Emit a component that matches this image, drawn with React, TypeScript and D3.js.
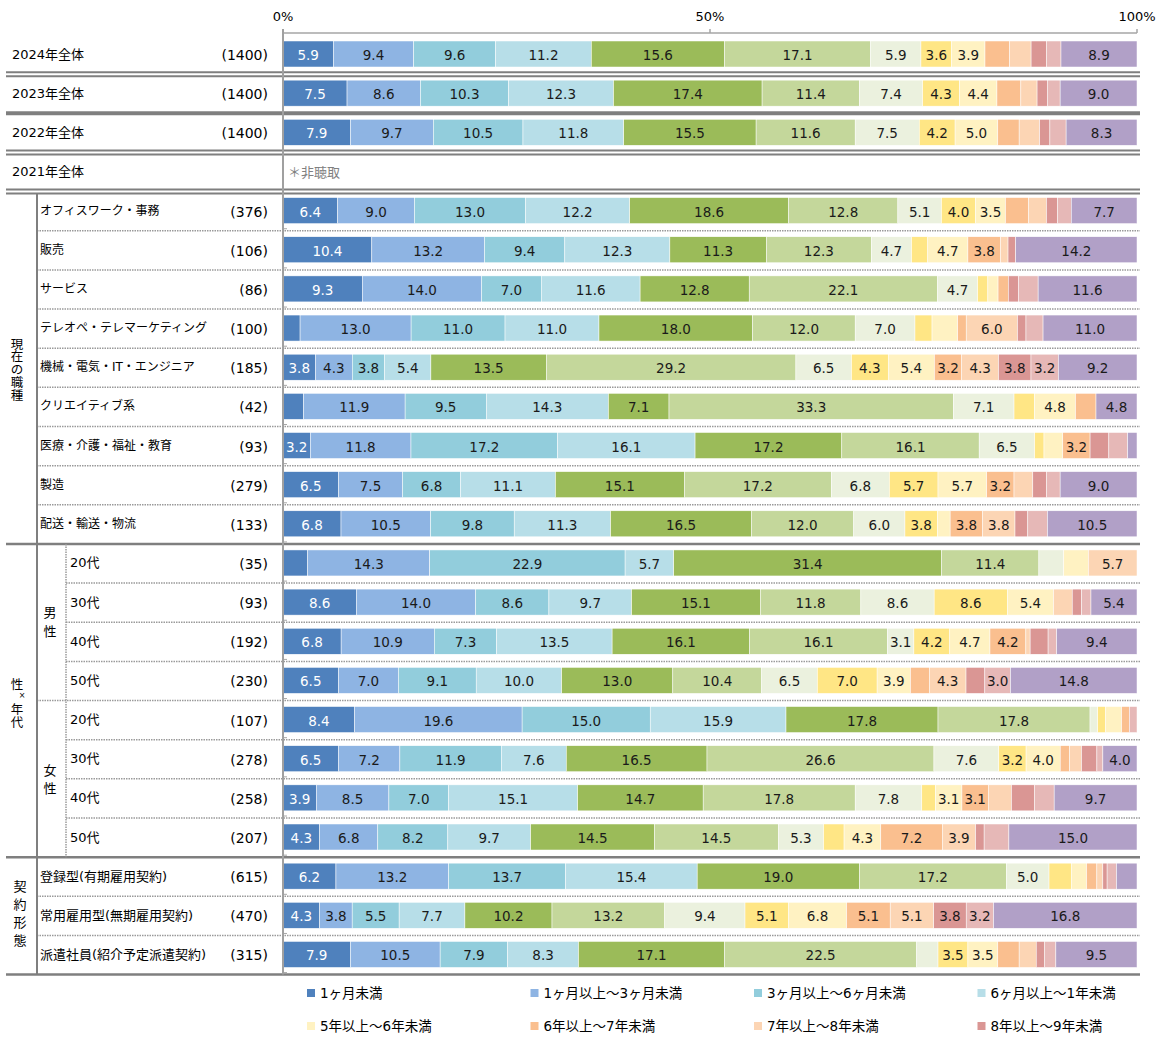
import React from "react";
import * as d3 from "d3";

// ---------- DATA ----------
const SERIES = [
  "1ヶ月未満",
  "1ヶ月以上～3ヶ月未満",
  "3ヶ月以上～6ヶ月未満",
  "6ヶ月以上～1年未満",
  "1年以上～2年未満",
  "2年以上～3年未満",
  "3年以上～4年未満",
  "4年以上～5年未満",
  "5年以上～6年未満",
  "6年以上～7年未満",
  "7年以上～8年未満",
  "8年以上～9年未満",
  "9年以上～10年未満",
  "10年以上",
];
const COLORS = [
  "#4F81BD", "#8EB4E3", "#92CDDC", "#B7DEE8", "#9BBB59", "#C4D79B", "#EBF1DE",
  "#FFE685", "#FFF2C2", "#FABF8F", "#FCD5B4", "#DA9694", "#E6B8B7", "#B1A0C7",
];
const LEGEND_SHOWN = [0, 1, 2, 3, 8, 9, 10, 11];

const ROW_LABELS = [
  "2024年全体", "2023年全体", "2022年全体", "2021年全体",
  "オフィスワーク・事務", "販売", "サービス", "テレオペ・テレマーケティング",
  "機械・電気・IT・エンジニア", "クリエイティブ系", "医療・介護・福祉・教育", "製造", "配送・輸送・物流",
  "20代", "30代", "40代", "50代",
  "20代", "30代", "40代", "50代",
  "登録型(有期雇用契約)", "常用雇用型(無期雇用契約)", "派遣社員(紹介予定派遣契約)",
];
const ROW_COUNTS = [
  "(1400)", "(1400)", "(1400)", "",
  "(376)", "(106)", "(86)", "(100)", "(185)", "(42)", "(93)", "(279)", "(133)",
  "(35)", "(93)", "(192)", "(230)",
  "(107)", "(278)", "(258)", "(207)",
  "(615)", "(470)", "(315)",
];

const v2024 = [5.9, 9.4, 9.6, 11.2, 15.6, 17.1, 5.9, 3.6, 3.9, 2.9, 2.5, 1.8, 1.7, 8.9];
const v2023 = [7.5, 8.6, 10.3, 12.3, 17.4, 11.4, 7.4, 4.3, 4.4, 2.8, 1.9, 1.2, 1.5, 9.0];
const v2022 = [7.9, 9.7, 10.5, 11.8, 15.5, 11.6, 7.5, 4.2, 5.0, 2.5, 2.4, 1.2, 1.9, 8.3];
const v2021: number[] | null = null; // 非聴取

const vOffice = [6.4, 9.0, 13.0, 12.2, 18.6, 12.8, 5.1, 4.0, 3.5, 2.7, 2.1, 1.3, 1.6, 7.7];
const vSales = [10.4, 13.2, 9.4, 12.3, 11.3, 12.3, 4.7, 1.9, 4.7, 3.8, 0.9, 0.9, 0, 14.2];
const vService = [9.3, 14.0, 7.0, 11.6, 12.8, 22.1, 4.7, 1.2, 1.2, 1.2, 0, 1.2, 2.3, 11.6];
const vTele = [2.0, 13.0, 11.0, 11.0, 18.0, 12.0, 7.0, 2.0, 3.0, 1.0, 6.0, 1.0, 2.0, 11.0];
const vEngineer = [3.8, 4.3, 3.8, 5.4, 13.5, 29.2, 6.5, 4.3, 5.4, 3.2, 4.3, 3.8, 3.2, 9.2];
const vCreative = [2.4, 11.9, 9.5, 14.3, 7.1, 33.3, 7.1, 2.4, 4.8, 2.4, 0, 0, 0, 4.8];
const vMedical = [3.2, 11.8, 17.2, 16.1, 17.2, 16.1, 6.5, 1.1, 2.2, 3.2, 0, 2.2, 2.2, 1.1];
const vMaking = [6.5, 7.5, 6.8, 11.1, 15.1, 17.2, 6.8, 5.7, 5.7, 3.2, 2.2, 1.6, 1.6, 9.0];
const vLogistics = [6.8, 10.5, 9.8, 11.3, 16.5, 12.0, 6.0, 3.8, 1.5, 3.8, 3.8, 1.5, 2.3, 10.5];

const vMale20 = [2.9, 14.3, 22.9, 5.7, 31.4, 11.4, 2.9, 0, 2.9, 0, 5.7, 0, 0, 0];
const vMale30 = [8.6, 14.0, 8.6, 9.7, 15.1, 11.8, 8.6, 8.6, 5.4, 0, 2.2, 1.1, 1.1, 5.4];
const vMale40 = [6.8, 10.9, 7.3, 13.5, 16.1, 16.1, 3.1, 4.2, 4.7, 4.2, 0.5, 2.1, 1.0, 9.4];
const vMale50 = [6.5, 7.0, 9.1, 10.0, 13.0, 10.4, 6.5, 7.0, 3.9, 2.2, 4.3, 2.2, 3.0, 14.8];
const vFemale20 = [8.4, 19.6, 15.0, 15.9, 17.8, 17.8, 0.9, 0.9, 1.9, 0.9, 0, 0, 0.9, 0];
const vFemale30 = [6.5, 7.2, 11.9, 7.6, 16.5, 26.6, 7.6, 3.2, 4.0, 1.1, 1.4, 1.8, 0.7, 4.0];
const vFemale40 = [3.9, 8.5, 7.0, 15.1, 14.7, 17.8, 7.8, 1.6, 3.1, 3.1, 2.7, 2.7, 2.3, 9.7];
const vFemale50 = [4.3, 6.8, 8.2, 9.7, 14.5, 14.5, 5.3, 2.4, 4.3, 7.2, 3.9, 1.0, 2.9, 15.0];

const vRegistered = [6.2, 13.2, 13.7, 15.4, 19.0, 17.2, 5.0, 2.6, 1.8, 1.2, 0.7, 0.5, 1.1, 2.4];
const vPermanent = [4.3, 3.8, 5.5, 7.7, 10.2, 13.2, 9.4, 5.1, 6.8, 5.1, 5.1, 3.8, 3.2, 16.8];
const vTempToPerm = [7.9, 10.5, 7.9, 8.3, 17.1, 22.5, 2.5, 3.5, 3.5, 2.5, 2.0, 1.0, 1.3, 9.5];

const ROW_VALUES: (number[] | null)[] = [
  v2024, v2023, v2022, v2021,
  vOffice, vSales, vService, vTele, vEngineer, vCreative, vMedical, vMaking, vLogistics,
  vMale20, vMale30, vMale40, vMale50,
  vFemale20, vFemale30, vFemale40, vFemale50,
  vRegistered, vPermanent, vTempToPerm,
];

// labels not printed in the original even though >= 3.0
const HIDDEN_LABELS: [number, number][] = [[7, 8]];
const LABEL_MIN = 3.0;
const NOT_ASKED = "＊非聴取";
const AXIS_TICKS = [0, 0.5, 1];

// ---------- COMPONENT ----------
const FONT = "'DejaVu Sans', 'Noto Sans CJK JP', sans-serif";
const JFONT = "'Noto Sans CJK JP', sans-serif";
const LINE = "#7F7F7F";

export default function App() {
  const W = 1159;
  const H = 1037;
  const x = d3.scaleLinear().domain([0, 1]).range([283, 1137]);
  const y = d3
    .scaleBand<number>()
    .domain(d3.range(ROW_LABELS.length))
    .range([35, 35 + 39.15 * ROW_LABELS.length])
    .paddingInner(0)
    .paddingOuter(0);
  const barOff = 6;
  const barH = 26;

  const table = ROW_VALUES.map((v, i) => ({ i, v })).filter((d) => d.v !== null) as {
    i: number;
    v: number[];
  }[];
  const stack = d3
    .stack<{ i: number; v: number[] }, number>()
    .keys(d3.range(SERIES.length))
    .value((d, k) => d.v[k])
    .offset(d3.stackOffsetExpand);
  const layers = stack(table);

  const isHidden = (row: number, s: number) =>
    HIDDEN_LABELS.some(([r, c]) => r === row && c === s);

  const labelX = (i: number) => (i < 4 ? 12 : i < 13 ? 40 : i < 21 ? 70 : 40);
  const labelSize = (i: number) => (i >= 4 && i < 13 ? 12 : 13);

  const boundary = (i: number) => y(i)! as number;
  const bottom = 35 + 39.15 * ROW_LABELS.length;

  // separator lines
  const seps: React.ReactNode[] = [];
  const x2 = 1140;
  const addDouble = (i: number) => {
    const b = boundary(i);
    seps.push(<line key={`d1${i}`} x1={6} x2={x2} y1={b - 2} y2={b - 2} stroke={LINE} strokeWidth={2} />);
    seps.push(<line key={`d2${i}`} x1={6} x2={x2} y1={b + 2} y2={b + 2} stroke={LINE} strokeWidth={2} />);
  };
  addDouble(1);
  seps.push(
    <line key="thick2" x1={6} x2={x2} y1={boundary(2)} y2={boundary(2)} stroke={LINE} strokeWidth={4} />
  );
  addDouble(3);
  addDouble(4);
  const solid = (yy: number, k: string) => (
    <line key={k} x1={6} x2={x2} y1={yy} y2={yy} stroke={LINE} strokeWidth={2.5} />
  );
  const dotted = (i: number, from: number) => (
    <line
      key={`dot${i}`}
      x1={from}
      x2={x2}
      y1={boundary(i)}
      y2={boundary(i)}
      stroke="#9A9A9A"
      strokeWidth={1.5}
      strokeDasharray="1.5,1"
    />
  );
  for (let i = 5; i <= 12; i++) seps.push(dotted(i, 37));
  seps.push(solid(boundary(13), "g13"));
  for (const i of [14, 15, 16, 18, 19, 20]) seps.push(dotted(i, 66));
  seps.push(dotted(17, 37));
  seps.push(solid(boundary(21), "g21"));
  for (const i of [22, 23]) seps.push(dotted(i, 37));
  seps.push(solid(bottom, "bottom"));

  const vertChars = (
    chars: { c: string; x: number; y: number; size?: number }[],
    key: string
  ) =>
    chars.map((ch, k) => (
      <text
        key={key + k}
        x={ch.x}
        y={ch.y}
        textAnchor="middle"
        dominantBaseline="central"
        fontFamily={FONT}
        fontSize={ch.size ?? 13}
        fill="#000"
      >
        {ch.c}
      </text>
    ));

  const legendCols = [311, 534.5, 758, 981.5];
  const legendRows = [993, 1026];

  return (
    <svg
      width={W}
      height={H}
      viewBox={`0 0 ${W} ${H}`}
      style={{ display: "block", background: "#fff", position: "absolute", left: 0, top: 0 }}
    >
      <defs>
        <clipPath id="labelClip">
          <rect x={0} y={0} width={207} height={H} />
        </clipPath>
      </defs>

      {/* axis */}
      <line x1={x(0)} x2={x(1)} y1={33} y2={33} stroke="#A6A6A6" strokeWidth={1.5} />
      {AXIS_TICKS.map((t) => (
        <g key={t}>
          <line x1={x(t)} x2={x(t)} y1={29} y2={33} stroke="#A6A6A6" strokeWidth={1.5} />
          <text
            x={x(t)}
            y={16}
            textAnchor="middle"
            dominantBaseline="central"
            fontFamily={FONT}
            fontSize={13}
            fill="#000"
          >
            {d3.format(".0%")(t)}
          </text>
        </g>
      ))}

      {/* bars */}
      {layers.map((layer, s) => (
        <g key={s}>
          {layer.map((p) => {
            const row = p.data.i;
            const val = p.data.v[s];
            if (!val) return null;
            const x0 = x(p[0]);
            const x1 = x(p[1]);
            const yy = (y(row) as number) + barOff;
            return (
              <rect
                key={row}
                x={x0}
                y={yy}
                width={Math.max(0, x1 - x0)}
                height={barH}
                fill={COLORS[s]}
                stroke="#fff"
                strokeWidth={0.5}
              />
            );
          })}
        </g>
      ))}
      {layers.map((layer, s) => (
        <g key={"l" + s}>
          {layer.map((p) => {
            const row = p.data.i;
            const val = p.data.v[s];
            if (val < LABEL_MIN || isHidden(row, s)) return null;
            const cx = (x(p[0]) + x(p[1])) / 2;
            const cy = (y(row) as number) + barOff + barH / 2;
            return (
              <text
                key={row}
                x={cx}
                y={cy + 1}
                textAnchor="middle"
                dominantBaseline="central"
                fontFamily={FONT}
                fontSize={13.5}
                fill={s === 0 ? "#fff" : "#1a1a1a"}
              >
                {d3.format(".1f")(val)}
              </text>
            );
          })}
        </g>
      ))}

      {/* not asked */}
      {ROW_VALUES.map((v, i) =>
        v === null ? (
          <text
            key={"na" + i}
            x={288}
            y={(y(i) as number) + barOff + barH / 2}
            dominantBaseline="central"
            fontFamily={JFONT}
            fontSize={13}
            fill="#808080"
          >
            {NOT_ASKED}
          </text>
        ) : null
      )}

      {/* separators */}
      {seps}
      {/* category ticks on left axis */}
      {d3.range(5, 25).map((i) => (
        <line
          key={"ct" + i}
          x1={283}
          x2={287}
          y1={(i < 24 ? boundary(i) : bottom) - 2}
          y2={(i < 24 ? boundary(i) : bottom) - 2}
          stroke="#A6A6A6"
          strokeWidth={1}
        />
      ))}
      {/* vertical lines */}
      <line x1={x(0)} x2={x(0)} y1={29} y2={bottom} stroke="#A0A0A0" strokeWidth={2} />
      <line x1={37} x2={37} y1={boundary(4) + 2} y2={bottom} stroke={LINE} strokeWidth={2} />
      <line
        x1={66}
        x2={66}
        y1={boundary(13)}
        y2={boundary(21)}
        stroke="#9A9A9A"
        strokeWidth={1.5}
        strokeDasharray="1.5,1"
      />

      {/* row labels */}
      {ROW_LABELS.map((lab, i) => {
        const cy = (y(i) as number) + barOff + barH / 2;
        return (
          <g key={"rl" + i}>
            <text
              x={labelX(i)}
              y={cy}
              dominantBaseline="central"
              fontFamily={FONT}
              fontSize={labelSize(i)}
              fill="#000"
              clipPath={i >= 21 ? "url(#labelClip)" : undefined}
            >
              {lab}
            </text>
            {ROW_COUNTS[i] && (
              <text
                x={268}
                y={cy + 1}
                textAnchor="end"
                dominantBaseline="central"
                fontFamily={FONT}
                fontSize={14}
                fill="#000"
              >
                {ROW_COUNTS[i]}
              </text>
            )}
          </g>
        );
      })}

      {/* group labels */}
      {vertChars(
        ["現", "在", "の", "職", "種"].map((c, k) => ({ c, x: 17, y: 344 + k * 12.8, size: 12.5 })),
        "g1"
      )}
      {vertChars(
        [
          { c: "性", x: 17, y: 684, size: 12.5 },
          { c: "×", x: 22, y: 695, size: 8 },
          { c: "年", x: 17, y: 709, size: 12.5 },
          { c: "代", x: 17, y: 722, size: 12.5 },
        ],
        "g2"
      )}
      {vertChars(
        [
          { c: "男", x: 50, y: 612 },
          { c: "性", x: 50, y: 631 },
        ],
        "g3"
      )}
      {vertChars(
        [
          { c: "女", x: 50, y: 770 },
          { c: "性", x: 50, y: 788 },
        ],
        "g4"
      )}
      {vertChars(
        ["契", "約", "形", "態"].map((c, k) => ({ c, x: 20, y: 886 + k * 18.3 })),
        "g5"
      )}

      {/* legend */}
      {LEGEND_SHOWN.map((s, k) => {
        const lx = legendCols[k % 4];
        const ly = legendRows[Math.floor(k / 4)];
        return (
          <g key={"lg" + s}>
            <rect x={lx - 4} y={ly - 4} width={8} height={8} fill={COLORS[s]} />
            <text
              x={lx + 9}
              y={ly}
              dominantBaseline="central"
              fontFamily={FONT}
              fontSize={13.5}
              fill="#000"
            >
              {SERIES[s]}
            </text>
          </g>
        );
      })}
    </svg>
  );
}
